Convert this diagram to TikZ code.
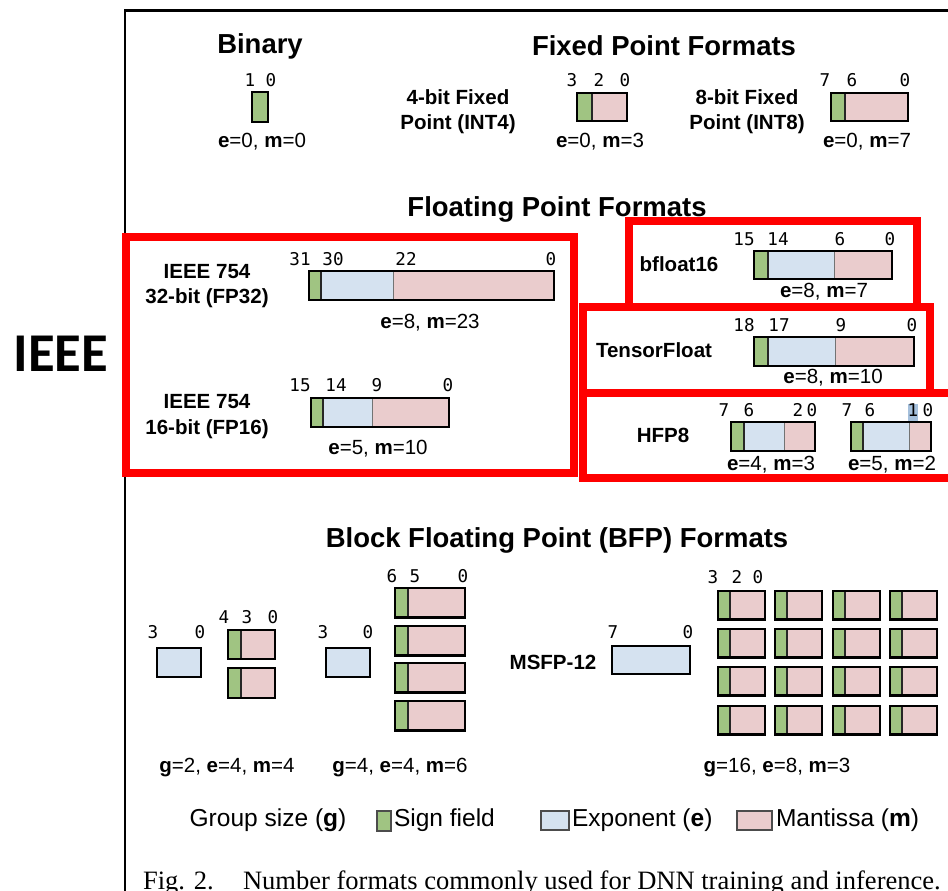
\documentclass[tikz,border=0pt]{standalone}
\usepackage{fontspec}
\setmainfont{Liberation Sans}
\newfontfamily\monofnt{DejaVu Sans Mono}
\newfontfamily\capfnt{Liberation Serif}
\newfontfamily\ieeefnt{Carlito}
\definecolor{sgncol}{RGB}{160,196,130}
\definecolor{expcol}{RGB}{213,226,240}
\definecolor{mantcol}{RGB}{234,204,205}
\definecolor{redcol}{RGB}{255,0,0}
\definecolor{hlcol}{RGB}{165,192,220}
\tikzset{
  outline/.style={draw=black,line width=1.8pt},
  sgndiv/.style={draw=black!85,line width=1.2pt},
  expdiv/.style={draw=black!55,line width=0.7pt},
  redbox/.style={draw=redcol,line width=6pt},
  frame/.style={draw=black,line width=1.6pt},
  txt/.style={inner sep=0pt,outer sep=0pt},
  titletxt/.style={txt,font=\fontsize{20.6}{24}\selectfont\bfseries},
  labtxt/.style={txt,font=\fontsize{15.4}{19}\selectfont\bfseries,align=center},
  valtxt/.style={txt,font=\fontsize{15.4}{19}\selectfont},
  bittxt/.style={txt,font=\monofnt\fontsize{13.2}{15}\selectfont},
  legtxt/.style={txt,font=\fontsize{18.4}{22}\selectfont},
  swatch/.style={draw=black!70,line width=0.8pt},
}
\newcommand\bitbox[6]{%
  \fill[sgncol] (#1,#5) rectangle (#2,#6);
  \fill[expcol] (#2,#5) rectangle (#3,#6);
  \fill[mantcol] (#3,#5) rectangle (#4,#6);
  \draw[expdiv] (#3,#5) -- (#3,#6);
  \draw[sgndiv] (#2,#5) -- (#2,#6);
  \draw[outline] (#1,#5) rectangle (#4,#6);
}
\begin{document}
\begin{tikzpicture}[x=0.75pt,y=-0.75pt]
\useasboundingbox (0,0) rectangle (948,890);
\fill[white] (0,0) rectangle (948,890);
% outer frame
\draw[frame] (970,10.5) -- (125,10.5) -- (125,910);

% IEEE side label
\node[txt,font=\ieeefnt\bfseries\fontsize{41}{44}\selectfont] (ieee) at (61,354) {IEEE};

% ---------- Binary ----------
\node[titletxt] (tbin) at (260,46) {Binary};
\bitbox{252}{268}{268}{268}{92}{122}
\node[bittxt] (b1) at (250,80) {1};
\node[bittxt] (b0) at (271,80) {0};
\node[valtxt] (vbin) at (262,142) {\textbf{e}=0, \textbf{m}=0};

% ---------- Fixed point ----------
\node[titletxt] (tfix) at (664,46) {Fixed Point Formats};
\node[labtxt] (lint4) at (458,112) {4-bit Fixed\\Point (INT4)};
\bitbox{577}{592}{592}{627}{93}{121}
\node[bittxt] (i43) at (572,80) {3};
\node[bittxt] (i42) at (599,80) {2};
\node[bittxt] (i40) at (625,80) {0};
\node[valtxt] (vint4) at (600,142) {\textbf{e}=0, \textbf{m}=3};

\node[labtxt] (lint8) at (747,112) {8-bit Fixed\\Point (INT8)};
\bitbox{831}{845}{845}{908}{93}{121}
\node[bittxt] (i87) at (825,80) {7};
\node[bittxt] (i86) at (852,80) {6};
\node[bittxt] (i80) at (905,80) {0};
\node[valtxt] (vint8) at (867,142) {\textbf{e}=0, \textbf{m}=7};

% ---------- Floating point ----------
\node[titletxt] (tflt) at (557,209) {Floating Point Formats};
\draw[redbox] (126,236.5) rectangle (574,472.5);
\draw[redbox] (629,221) rectangle (916.5,307);
\draw[redbox] (582.5,307) rectangle (929.5,393);
\draw[redbox] (582.5,393) rectangle (970,478);

% FP32
\node[labtxt] (lfp32) at (207,286) {IEEE 754\\32-bit (FP32)};
\bitbox{309}{321}{393}{554}{271}{300}
\node[bittxt] (f3231) at (300,259) {31};
\node[bittxt] (f3230) at (333,259) {30};
\node[bittxt] (f3222) at (406,259) {22};
\node[bittxt] (f320) at (551,259) {0};
\node[valtxt] (vfp32) at (430,323) {\textbf{e}=8, \textbf{m}=23};

% FP16
\node[labtxt] (lfp16) at (207,416.5) {IEEE 754\\16-bit (FP16)};
\bitbox{311}{323}{372}{449}{398}{427}
\node[bittxt] (f1615) at (300,385) {15};
\node[bittxt] (f1614) at (336,385) {14};
\node[bittxt] (f169) at (377,385) {9};
\node[bittxt] (f160) at (448,385) {0};
\node[valtxt] (vfp16) at (378,449) {\textbf{e}=5, \textbf{m}=10};

% bfloat16
\node[labtxt] (lbf) at (679,264) {bfloat16};
\bitbox{754}{768}{834}{892}{251}{279}
\node[bittxt] (bf15) at (744,239) {15};
\node[bittxt] (bf14) at (778,239) {14};
\node[bittxt] (bf6) at (840,239) {6};
\node[bittxt] (bf0) at (890,239) {0};
\node[valtxt] (vbf) at (824,292) {\textbf{e}=8, \textbf{m}=7};

% TensorFloat
\node[labtxt] (ltf) at (654,350) {TensorFloat};
\bitbox{754}{768}{835}{914}{337}{366}
\node[bittxt] (tf18) at (744,325) {18};
\node[bittxt] (tf17) at (779,325) {17};
\node[bittxt] (tf9) at (841,325) {9};
\node[bittxt] (tf0) at (912,325) {0};
\node[valtxt] (vtf) at (833,378) {\textbf{e}=8, \textbf{m}=10};

% HFP8
\node[labtxt] (lhfp) at (663,435) {HFP8};
\bitbox{731}{744}{784}{815}{422}{451}
\node[bittxt] (ha7) at (724,410) {7};
\node[bittxt] (ha6) at (749,410) {6};
\node[bittxt] (ha2) at (798,410) {2};
\node[bittxt] (ha0) at (812,410) {0};
\node[valtxt] (vha) at (771,465) {\textbf{e}=4, \textbf{m}=3};
\fill[hlcol] (908,404) rectangle (918,421);
\bitbox{851}{863}{909}{931}{422}{451}
\node[bittxt] (hb7) at (847,410) {7};
\node[bittxt] (hb6) at (870,410) {6};
\node[bittxt] (hb1) at (913,410) {1};
\node[bittxt] (hb0) at (928,410) {0};
\node[valtxt] (vhb) at (892,465) {\textbf{e}=5, \textbf{m}=2};

% ---------- Block floating point ----------
\node[titletxt] (tbfp) at (557,540) {Block Floating Point (BFP) Formats};

% group 1
\bitbox{157}{157}{201}{201}{648}{677}
\node[bittxt] (g1e3) at (153,632) {3};
\node[bittxt] (g1e0) at (200,632) {0};
\bitbox{228}{241}{241}{275}{630}{659}
\bitbox{228}{241}{241}{275}{668}{698}
\node[bittxt] (g1m4) at (224,617) {4};
\node[bittxt] (g1m3) at (247,617) {3};
\node[bittxt] (g1m0) at (273,617) {0};
\node[valtxt] (vg1) at (227,767) {\textbf{g}=2, \textbf{e}=4, \textbf{m}=4};

% group 2
\bitbox{326}{326}{370}{370}{648}{677}
\node[bittxt] (g2e3) at (323,632) {3};
\node[bittxt] (g2e0) at (368,632) {0};
\foreach \yy in {588,626,663,701}{
  \bitbox{395}{408}{408}{465}{\yy}{\yy+29.5}
}
\node[bittxt] (g2m6) at (392,576) {6};
\node[bittxt] (g2m5) at (415,576) {5};
\node[bittxt] (g2m0) at (463,576) {0};
\node[valtxt] (vg2) at (400,767) {\textbf{g}=4, \textbf{e}=4, \textbf{m}=6};

% group 3 (MSFP-12)
\node[labtxt] (lmsfp) at (553,662) {MSFP-12};
\bitbox{612}{612}{690}{690}{646}{674}
\node[bittxt] (g3e7) at (613,632) {7};
\node[bittxt] (g3e0) at (688,632) {0};
\foreach \xx in {718,775,833,890}{
  \foreach \yy in {591,629,667,706}{
    \bitbox{\xx}{\xx+12}{\xx+12}{\xx+47}{\yy}{\yy+28.5}
  }
}
\node[bittxt] (g3m3) at (713,577) {3};
\node[bittxt] (g3m2) at (737,577) {2};
\node[bittxt] (g3m0) at (758,577) {0};
\node[valtxt] (vg3) at (777,767) {\textbf{g}=16, \textbf{e}=8, \textbf{m}=3};

% ---------- Legend ----------
\node[legtxt] (lgrp) at (268,820) {Group size (\textbf{g})};
\filldraw[swatch,fill=sgncol] (377,811) rectangle (391,831);
\node[legtxt,anchor=west] (lsgn) at (394,820) {Sign field};
\filldraw[swatch,fill=expcol] (541,811) rectangle (569,830);
\node[legtxt,anchor=west] (lexp) at (572,820) {Exponent (\textbf{e})};
\filldraw[swatch,fill=mantcol] (737,811) rectangle (772,830);
\node[legtxt,anchor=west] (lman) at (776,820) {Mantissa (\textbf{m})};

% ---------- Caption ----------
\node[txt,anchor=base west,font=\capfnt\fontsize{19.9}{24}\selectfont] (capfig) at (143,889) {Fig. 2.};
\node[txt,anchor=base west,font=\capfnt\fontsize{19.9}{24}\selectfont] (captxt) at (243,889) {Number formats commonly used for DNN training and inference.};
\end{tikzpicture}
\end{document}
